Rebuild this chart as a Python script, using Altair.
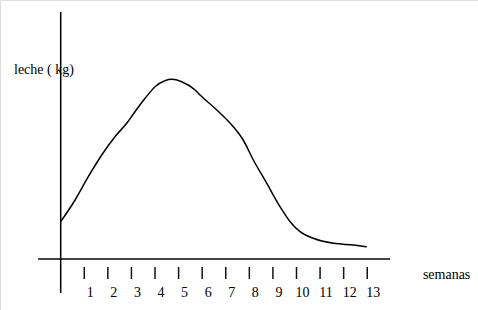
import altair as alt
import pandas as pd

# milk curve (weeks, milk in arbitrary units above the axis)
weeks = [0.0, 0.61, 1.17, 1.74, 2.30, 2.80, 3.15, 3.58, 4.00, 4.42, 4.71, 5.13,
         5.70, 5.91, 6.62, 7.32, 7.74, 8.17, 8.74, 9.30, 9.73, 10.15, 10.71,
         11.57, 12.41, 12.98]
milk = [37.3, 59, 82.3, 104, 122.3, 135.7, 147.3, 160.7, 172.3, 178.3, 179.7, 177.3,
        169, 164, 149, 132.3, 119, 99, 75.7, 52.3, 37.3, 27.3, 20.7,
        15.7, 14, 12.3]
tick_weeks = list(range(1, 14))
tick_labels = [str(i) for i in tick_weeks]
y_title = ["leche ( kg)"]
x_title = ["semanas"]

FONT = "Liberation Serif"
xs = alt.Scale(domain=[-2.574, 17.697], nice=False, zero=False)
ys = alt.Scale(domain=[-51, 259], nice=False, zero=False)


def X(f):
    return alt.X(f, type="quantitative", scale=xs, axis=None)


def Y(f):
    return alt.Y(f, type="quantitative", scale=ys, axis=None)


curve = alt.Chart(pd.DataFrame({"w": weeks, "m": milk})).mark_line(
    color="black", strokeWidth=1.5, interpolate="monotone"
).encode(x=X("w"), y=Y("m"))

haxis = alt.Chart(pd.DataFrame({"a": [-0.96], "b": [13.97], "y": [0]})).mark_rule(
    color="#444444", strokeWidth=2
).encode(x=X("a"), x2="b", y=Y("y"))

vaxis = alt.Chart(pd.DataFrame({"x": [0], "a": [-34], "b": [247]})).mark_rule(
    color="black", strokeWidth=1.5
).encode(x=X("x"), y=Y("a"), y2="b")

tickdf = pd.DataFrame({"w": tick_weeks, "lab": tick_labels})
tickdf["top"] = -8
tickdf["bot"] = -20
tickdf["ly"] = -38

ticks = alt.Chart(tickdf).mark_rule(color="#111111", strokeWidth=1.5).encode(
    x=X("w"), y=Y("top"), y2="bot"
)
labels = alt.Chart(tickdf).mark_text(
    dx=6, baseline="alphabetic", fontSize=14, color="black"
).encode(x=X("w"), y=Y("ly"), text="lab:N")

ytxt = alt.Chart(pd.DataFrame({"t": y_title, "x": [-1.98], "y": [185]})).mark_text(
    align="left", baseline="alphabetic", fontSize=14, color="black"
).encode(x=X("x"), y=Y("y"), text="t:N")

xtxt = alt.Chart(pd.DataFrame({"t": x_title, "x": [15.36], "y": [-20]})).mark_text(
    align="left", baseline="alphabetic", fontSize=14, color="black"
).encode(x=X("x"), y=Y("y"), text="t:N")

chart = alt.layer(haxis, vaxis, ticks, labels, curve, ytxt, xtxt).properties(
    width=478, height=310, padding=0, autosize=alt.AutoSizeParams(type="none"),
    background="white",
).configure_view(stroke=None).configure_text(font=FONT).configure(font=FONT)

chart.save("out.html", embed_options={"renderer": "svg", "actions": False})
